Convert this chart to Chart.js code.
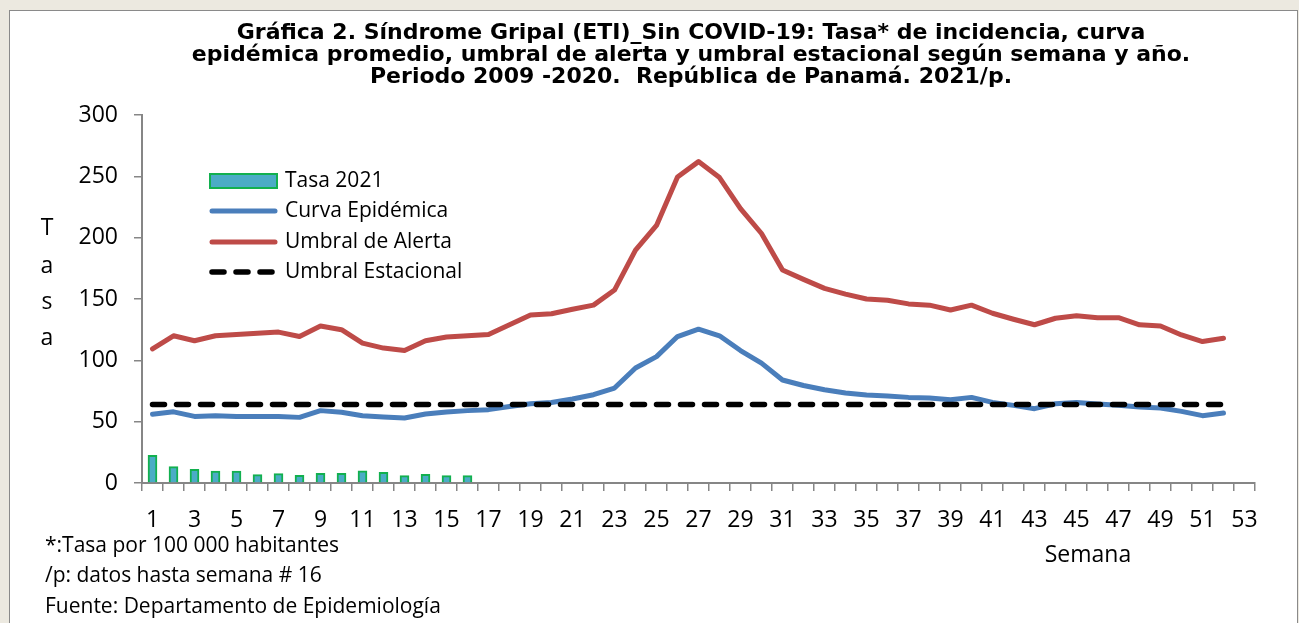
<!DOCTYPE html>
<html>
<head>
<meta charset="utf-8">
<script src="https://cdn.jsdelivr.net/npm/chart.js@4.4.1/dist/chart.umd.min.js"></script>
<style>
  html, body { margin: 0; padding: 0; background: #ECE9E0; overflow: hidden; }
  #panel { position: absolute; left: 9px; top: 10px; width: 1287px; height: 625px; background: #fff; border: 1px solid #8a8a8a; }
  #chart { position: absolute; left: 0; top: 0; }
</style>
</head>
<body>
<div id="panel"></div>
<canvas id="chart" width="1299" height="623"></canvas>
<script>
const semanas = ['1','2','3','4','5','6','7','8','9','10','11','12','13','14','15','16','17','18','19','20',
  '21','22','23','24','25','26','27','28','29','30','31','32','33','34','35','36','37','38','39','40',
  '41','42','43','44','45','46','47','48','49','50','51','52','53'];

const tasa2021 = [22.5, 13.3, 11.2, 9.8, 9.8, 6.8, 7.6, 6.3, 7.9, 7.9, 10, 8.7, 6, 7.1, 6, 6];

const curvaEpidemica = [56, 58, 54.3, 54.9, 54.3, 54.3, 54.3, 53.5, 59, 57.6,
  54.9, 53.8, 53, 56.2, 57.9, 59, 59.8, 62.4, 64.6, 65.7,
  68.5, 72, 77.4, 93.7, 103, 119.4, 125.4, 120, 108, 97.7,
  84, 79.5, 76, 73.3, 71.7, 71, 69.8, 69.3, 67.9, 69.8,
  65.7, 63.3, 60.6, 64.6, 65.7, 64.4, 63.3, 62, 61.1, 58.4,
  54.9, 57];

const umbralAlerta = [109.3, 120, 116, 120, 121, 122, 123, 119.4, 128, 125,
  114, 110, 108, 116, 119, 120, 121, 129, 137, 138,
  141.6, 145, 157.3, 189.8, 210, 249.4, 262, 249, 223.7, 203.4,
  173.6, 166, 158.7, 154, 150, 149, 146, 145, 141, 145,
  138.4, 133.5, 129, 134.3, 136.4, 134.8, 134.8, 129, 128, 120.7,
  115.3, 118];

const umbralEstacional = [64, 64, 64, 64, 64, 64, 64, 64, 64, 64,
  64, 64, 64, 64, 64, 64, 64, 64, 64, 64,
  64, 64, 64, 64, 64, 64, 64, 64, 64, 64,
  64, 64, 64, 64, 64, 64, 64, 64, 64, 64,
  64, 64, 64, 64, 64, 64, 64, 64, 64, 64,
  64, 64];

const yTicks = [0, 50, 100, 150, 200, 250, 300];

const titulo = [
  'Gráfica 2. Síndrome Gripal (ETI)_Sin COVID-19: Tasa* de incidencia, curva',
  'epidémica promedio, umbral de alerta y umbral estacional según semana y año.',
  'Periodo 2009 -2020.  República de Panamá. 2021/p.'
];
const notas = [
  '*:Tasa por 100 000 habitantes',
  '/p: datos hasta semana # 16',
  'Fuente: Departamento de Epidemiología'
];

const axisColor = '#868686';
const txtFont = '"Open Sans", sans-serif';

// titles, axis names, notes and the in-plot legend
const textos = {
  id: 'textos',
  afterDraw(chart) {
    const ctx = chart.ctx;
    ctx.save();
    ctx.fillStyle = '#000';
    ctx.textAlign = 'center';
    ctx.textBaseline = 'alphabetic';
    ctx.font = 'bold 22px "DejaVu Sans", Verdana, sans-serif';
    [39, 61, 83].forEach((y, i) => ctx.fillText(titulo[i], 691, y));

    ctx.font = '23px ' + txtFont;
    ctx.textBaseline = 'middle';
    ['T', 'a', 's', 'a'].forEach((c, i) => ctx.fillText(c, 47, [228, 266, 302, 338][i]));
    ctx.fillText('Semana', 1088, 555);

    ctx.textAlign = 'left';
    ctx.font = '21px ' + txtFont;
    [546, 576, 607].forEach((y, i) => ctx.fillText(notas[i], 45, y));

    // legend
    const ds = chart.data.datasets;
    ctx.fillStyle = ds[0].backgroundColor;
    ctx.strokeStyle = ds[0].borderColor;
    ctx.lineWidth = 2;
    ctx.fillRect(210, 174, 67, 14);
    ctx.strokeRect(210, 174, 67, 14);
    const ly = [181, 211, 242, 272];
    ctx.lineCap = 'round';
    for (let i = 1; i < 4; i++) {
      ctx.beginPath();
      ctx.strokeStyle = ds[i].borderColor;
      ctx.lineWidth = ds[i].borderWidth;
      ctx.setLineDash(ds[i].borderDash || []);
      ctx.moveTo(212, ly[i]);
      ctx.lineTo(275, ly[i]);
      ctx.stroke();
    }
    ctx.setLineDash([]);
    ctx.fillStyle = '#000';
    ds.forEach((d, i) => ctx.fillText(d.label, 285, ly[i]));
    ctx.restore();
  }
};

new Chart(document.getElementById('chart'), {
  type: 'bar',
  data: {
    labels: semanas,
    datasets: [
      {
        label: 'Tasa 2021',
        data: tasa2021,
        backgroundColor: '#4BACC6',
        borderColor: '#12B04F',
        borderWidth: 2,
        barThickness: 9,
        order: 4
      },
      {
        type: 'line',
        label: 'Curva Epidémica',
        data: curvaEpidemica,
        borderColor: '#4A7EBB',
        borderWidth: 5,
        pointRadius: 0,
        borderJoinStyle: 'round',
        borderCapStyle: 'round',
        order: 2
      },
      {
        type: 'line',
        label: 'Umbral de Alerta',
        data: umbralAlerta,
        borderColor: '#BE4B48',
        borderWidth: 5,
        pointRadius: 0,
        borderJoinStyle: 'round',
        borderCapStyle: 'round',
        order: 3
      },
      {
        type: 'line',
        label: 'Umbral Estacional',
        data: umbralEstacional,
        borderColor: '#000000',
        borderWidth: 5.5,
        borderDash: [12, 12],
        pointRadius: 0,
        borderCapStyle: 'round',
        order: 1
      }
    ]
  },
  options: {
    responsive: false,
    animation: false,
    layout: { padding: { left: 62, right: 44, top: 115, bottom: 80 } },
    plugins: {
      legend: { display: false },
      title: { display: false },
      tooltip: { enabled: false }
    },
    scales: {
      x: {
        offset: true,
        afterFit: (scale) => { scale.height = 60; },
        border: { display: true, color: axisColor, width: 2 },
        grid: { offset: true, drawOnChartArea: false, drawTicks: true, tickLength: 8, color: axisColor, lineWidth: 1.5 },
        ticks: {
          autoSkip: false,
          maxRotation: 0,
          padding: 16,
          color: '#000',
          font: { family: txtFont, size: 23 },
          callback: function (v, i) { return i % 2 === 0 ? this.getLabelForValue(v) : ''; }
        }
      },
      y: {
        min: yTicks[0],
        max: yTicks[yTicks.length - 1],
        afterFit: (scale) => { scale.width = 80; },
        afterBuildTicks: (scale) => { scale.ticks = yTicks.map(v => ({ value: v })); },
        border: { display: true, color: axisColor, width: 2 },
        grid: { drawOnChartArea: false, drawTicks: true, tickLength: 8, color: axisColor, lineWidth: 1.5 },
        ticks: {
          padding: 16,
          color: '#000',
          font: { family: txtFont, size: 23 }
        }
      }
    }
  },
  plugins: [textos]
});
</script>
</body>
</html>
